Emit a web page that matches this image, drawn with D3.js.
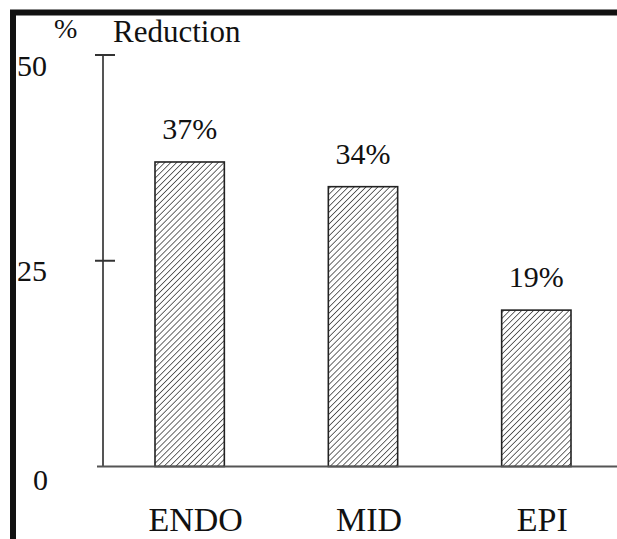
<!DOCTYPE html>
<html>
<head>
<meta charset="utf-8">
<script src="https://cdn.jsdelivr.net/npm/d3@7"></script>
<style>
  body { margin: 0; background: #fff; }
  svg text { font-family: "Liberation Serif", "DejaVu Serif", serif; fill: #111; }
</style>
</head>
<body>
<svg id="bar-graph" width="617" height="539"></svg>
<script>
var categories = ["ENDO", "MID", "EPI"];
var reduction = [37, 34, 19];
var valueLabels = ["37%", "34%", "19%"];
var yTicks = [0, 25, 50];

var SERIF = "'Liberation Serif', 'DejaVu Serif', serif";

InitChart();

function InitChart() {
  var viz = d3.select("#bar-graph"),
    WIDTH = 617,
    HEIGHT = 539;

  var xRange = d3.scaleBand()
    .domain(categories)
    .range([103, 623])
    .paddingInner(0.6)
    .paddingOuter(0.3);

  var yRange = d3.scaleLinear()
    .domain([0, 50])
    .range([466.5, 55]);

  // hatch pattern for the bars
  var pattern = viz.append("defs").append("pattern")
    .attr("id", "hatch")
    .attr("patternUnits", "userSpaceOnUse")
    .attr("width", 4.2)
    .attr("height", 4.2)
    .attr("patternTransform", "rotate(45)");
  pattern.append("rect")
    .attr("width", 4.2).attr("height", 4.2).attr("fill", "#fff");
  pattern.append("line")
    .attr("x1", 0).attr("y1", 0).attr("x2", 0).attr("y2", 4.2)
    .attr("stroke", "#444").attr("stroke-width", 1.6);

  // frame (top and left)
  viz.append("line")
    .attr("x1", 10).attr("x2", WIDTH).attr("y1", 12.5).attr("y2", 12.5)
    .attr("stroke", "#111").attr("stroke-width", 6);
  viz.append("line")
    .attr("x1", 13).attr("x2", 13).attr("y1", 10).attr("y2", HEIGHT)
    .attr("stroke", "#111").attr("stroke-width", 6);

  // y axis
  var yAxis = d3.axisLeft(yRange)
    .tickValues(yTicks)
    .tickSize(0)
    .tickFormat(d3.format("d"));

  var gy = viz.append("g")
    .attr("class", "y axis")
    .attr("transform", "translate(103,0)")
    .call(yAxis)
    .attr("font-family", SERIF);
  gy.select(".domain").remove();
  gy.selectAll(".tick text")
    .attr("x", function(d) { return d === 0 ? -70 : -86; })
    .attr("dy", function(d) { return d === 0 ? 23 : 20; })
    .attr("text-anchor", "start")
    .attr("font-family", SERIF)
    .attr("font-size", 30)
    .attr("fill", "#111");

  viz.append("line")
    .attr("x1", 103).attr("x2", 103)
    .attr("y1", yRange(50)).attr("y2", yRange(0))
    .attr("stroke", "#555").attr("stroke-width", 2);

  viz.selectAll(".ytick")
    .data(yTicks.filter(function(d) { return d > 0; }))
    .enter()
    .append("line")
    .attr("class", "ytick")
    .attr("x1", 95).attr("x2", 115)
    .attr("y1", function(d) { return yRange(d); })
    .attr("y2", function(d) { return yRange(d); })
    .attr("stroke", "#333").attr("stroke-width", 2);

  // bars
  viz.selectAll("rect.bar")
    .data(reduction)
    .enter()
    .append("rect")
    .attr("class", "bar")
    .attr("x", function(d, i) { return xRange(categories[i]); })
    .attr("y", function(d) { return yRange(d); })
    .attr("width", xRange.bandwidth())
    .attr("height", function(d) { return yRange(0) - yRange(d); })
    .attr("fill", "url(#hatch)")
    .attr("stroke", "#222")
    .attr("stroke-width", 1.6);

  // baseline
  viz.append("line")
    .attr("x1", 97).attr("x2", WIDTH)
    .attr("y1", yRange(0)).attr("y2", yRange(0))
    .attr("stroke", "#555").attr("stroke-width", 2);

  // value labels
  viz.selectAll(".vlabel")
    .data(reduction)
    .enter()
    .append("text")
    .attr("class", "vlabel")
    .attr("x", function(d, i) { return xRange(categories[i]) + xRange.bandwidth() / 2; })
    .attr("y", function(d) { return yRange(d) - 23; })
    .attr("text-anchor", "middle")
    .attr("font-family", SERIF)
    .attr("font-size", 30)
    .text(function(d, i) { return valueLabels[i]; });

  // category labels
  viz.selectAll(".clabel")
    .data(categories)
    .enter()
    .append("text")
    .attr("class", "clabel")
    .attr("x", function(d) { return xRange(d) + xRange.bandwidth() / 2 + 6; })
    .attr("y", 531)
    .attr("text-anchor", "middle")
    .attr("font-family", SERIF)
    .attr("font-size", 34)
    .text(function(d) { return d; });

  // axis title
  viz.append("text")
    .attr("x", 54).attr("y", 38)
    .attr("font-family", SERIF)
    .attr("font-size", 28)
    .text("%");
  viz.append("text")
    .attr("x", 113).attr("y", 42)
    .attr("font-family", SERIF)
    .attr("font-size", 31)
    .text("Reduction");
}
</script>
</body>
</html>
